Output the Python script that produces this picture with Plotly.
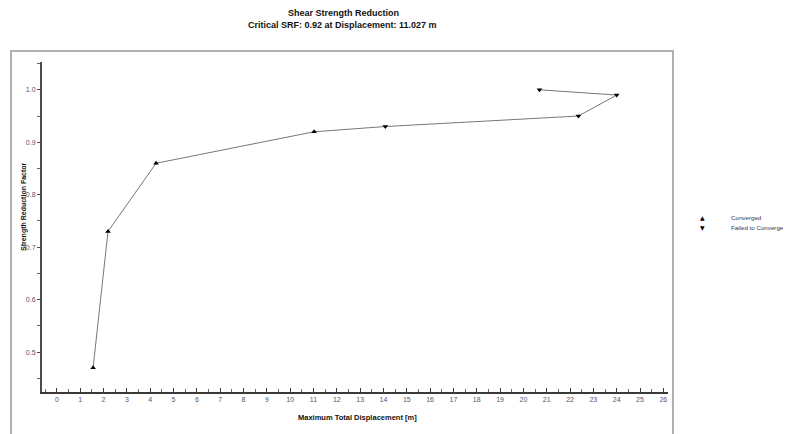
import plotly.graph_objects as go

# Data
disp_converged = [1.55, 2.19, 4.25, 11.027]
srf_converged = [0.47, 0.73, 0.86, 0.92]
disp_failed = [14.08, 22.36, 24.0, 20.69]
srf_failed = [0.93, 0.95, 0.99, 1.0]

x_ticks = list(range(0, 27))
y_ticks = [0.5, 0.6, 0.7, 0.8, 0.9, 1.0]

title_text = "Shear Strength Reduction"
subtitle_text = "Critical SRF: 0.92 at Displacement: 11.027 m"
x_title = "Maximum Total Displacement [m]"
y_title = "Strength Reduction Factor"
legend_labels = ["Converged", "Failed to Converge"]

W, H = 785, 434
L, R, T, B = 42, 117, 62, 42
pw, ph = W - L - R, H - T - B


def px_x(p):
    return (p - L) / pw


def px_y(p):
    return (H - B - p) / ph


fig = go.Figure()

all_x = disp_converged + disp_failed
all_y = srf_converged + srf_failed
fig.add_trace(go.Scatter(
    x=all_x, y=all_y, mode="lines",
    line=dict(color="#777777", width=1),
    showlegend=False, hoverinfo="skip"))
fig.add_trace(go.Scatter(
    x=disp_converged, y=srf_converged, mode="markers",
    marker=dict(symbol="triangle-up", size=5, color="black"),
    name=legend_labels[0], showlegend=False))
fig.add_trace(go.Scatter(
    x=disp_failed, y=srf_failed, mode="markers",
    marker=dict(symbol="triangle-down", size=5, color="black"),
    name=legend_labels[1], showlegend=False))

tickfont = dict(family="Liberation Sans", size=7, color="#555566")

fig.update_xaxes(
    range=[-0.64, 26.2], tickvals=x_ticks, ticktext=[str(v) for v in x_ticks],
    showgrid=False, zeroline=False, showline=True, linecolor="#3a3a3a", linewidth=2,
    ticks="inside", ticklen=4, tickcolor="#3a3a3a", tickwidth=1,
    minor=dict(dtick=0.5, tick0=0, ticks="inside", ticklen=3, tickcolor="#666", showgrid=False),
    tickfont=tickfont, fixedrange=True)
fig.update_yaxes(
    range=[0.424, 1.053], tickvals=y_ticks, ticktext=[f"{v:.1f}" for v in y_ticks],
    showgrid=False, zeroline=False, showline=True, linecolor="#4a4a4a", linewidth=2,
    ticks="outside", ticklen=3, tickcolor="#4a4a4a", tickwidth=1,
    minor=dict(dtick=0.05, tick0=0, ticks="outside", ticklen=3, tickcolor="#666", showgrid=False),
    tickfont=tickfont, fixedrange=True)

annotations = [
    dict(text=title_text, x=px_x(343), y=px_y(13), xref="paper", yref="paper",
         showarrow=False, xanchor="center", yanchor="middle",
         font=dict(family="Liberation Sans", size=9, color="#111", weight="bold")),
    dict(text=subtitle_text, x=px_x(342), y=px_y(25), xref="paper", yref="paper",
         showarrow=False, xanchor="center", yanchor="middle",
         font=dict(family="Liberation Sans", size=9, color="#111", weight="bold")),
    dict(text=x_title, x=px_x(357), y=px_y(417), xref="paper", yref="paper",
         showarrow=False, xanchor="center", yanchor="middle",
         font=dict(family="Liberation Sans", size=7.5, color="#111", weight="bold")),
    dict(text=y_title, x=px_x(24), y=px_y(207), xref="paper", yref="paper",
         showarrow=False, xanchor="center", yanchor="middle", textangle=-90,
         font=dict(family="Liberation Sans", size=7, color="#111", weight="bold")),
    dict(text="▲", x=px_x(703), y=px_y(217), xref="paper", yref="paper",
         showarrow=False, xanchor="center", yanchor="middle",
         font=dict(family="DejaVu Sans", size=6, color="black")),
    dict(text="▼", x=px_x(703), y=px_y(227), xref="paper", yref="paper",
         showarrow=False, xanchor="center", yanchor="middle",
         font=dict(family="DejaVu Sans", size=6, color="black")),
    dict(text=legend_labels[0], x=px_x(729), y=px_y(217), xref="paper", yref="paper",
         showarrow=False, xanchor="left", yanchor="middle",
         font=dict(family="Liberation Sans", size=6.2, color="#333355")),
    dict(text=legend_labels[1], x=px_x(729), y=px_y(227), xref="paper", yref="paper",
         showarrow=False, xanchor="left", yanchor="middle",
         font=dict(family="Liberation Sans", size=6.2, color="#333355")),
]

shapes = [
    dict(type="rect", xref="paper", yref="paper",
         x0=px_x(11), x1=px_x(673), y0=px_y(450), y1=px_y(51),
         line=dict(color="#b0b0b0", width=2), fillcolor="rgba(0,0,0,0)", layer="below"),
]

fig.update_layout(
    width=W, height=H,
    margin=dict(l=L, r=R, t=T, b=B, autoexpand=False),
    paper_bgcolor="white", plot_bgcolor="white",
    annotations=annotations, shapes=shapes,
    showlegend=False,
)

fig.write_html("out.html", config={"displayModeBar": False})
